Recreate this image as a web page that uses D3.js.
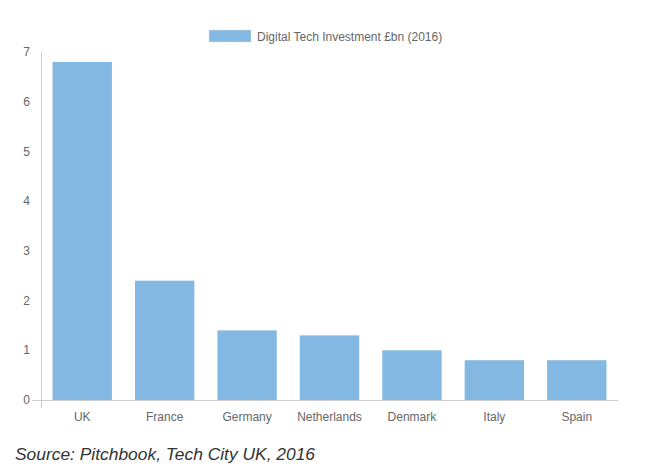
<!DOCTYPE html>
<html><head><meta charset="utf-8">
<script src="https://cdn.jsdelivr.net/npm/d3@7"></script>
<style>body{margin:0;background:#fff;}svg{display:block;}</style>
</head><body>
<svg id="c" width="659" height="473"></svg>
<script>
const categories = ["UK","France","Germany","Netherlands","Denmark","Italy","Spain"];
const values = [6.8, 2.4, 1.4, 1.3, 1.0, 0.8, 0.8];
const yTicks = [0,1,2,3,4,5,6,7];
const seriesName = "Digital Tech Investment £bn (2016)";
const sourceText = "Source: Pitchbook, Tech City UK, 2016";

const svg = d3.select("#c");
const font = "'Liberation Sans', Arial, sans-serif";
const x = d3.scaleBand().domain(categories).range([41, 618]).paddingInner(0.28).paddingOuter(0.14);
const y = d3.scaleLinear().domain([0, 7]).range([400, 52]);
const color = "#82b8e1";

// axes lines
svg.append("line").attr("x1", 41.5).attr("x2", 41.5).attr("y1", y(7)).attr("y2", 408).attr("stroke", "#ccc");
svg.append("line").attr("x1", 32).attr("x2", 618).attr("y1", 400.5).attr("y2", 400.5).attr("stroke", "#ccc");

// y tick labels
svg.append("g").selectAll("text").data(yTicks).join("text")
  .attr("x", 30).attr("y", d => y(d)).attr("dy", "0.35em")
  .attr("text-anchor", "end").attr("font-family", font).attr("font-size", 12).attr("fill", "#666")
  .text(d => d);

// bars
svg.append("g").selectAll("rect").data(values).join("rect")
  .attr("x", (d, i) => x(categories[i])).attr("width", x.bandwidth())
  .attr("y", d => y(d)).attr("height", d => y(0) - y(d))
  .attr("fill", color);

// x labels
svg.append("g").selectAll("text").data(categories).join("text")
  .attr("x", d => x(d) + x.bandwidth() / 2).attr("y", 421)
  .attr("text-anchor", "middle").attr("font-family", font).attr("font-size", 12).attr("fill", "#666")
  .text(d => d);

// legend
svg.append("rect").attr("x", 209).attr("y", 30).attr("width", 42).attr("height", 12).attr("fill", color).attr("stroke", "#ddd").attr("stroke-width", 0.5);
svg.append("text").attr("x", 257).attr("y", 40.5).attr("font-family", font).attr("font-size", 12).attr("fill", "#666").text(seriesName);

// source
svg.append("text").attr("x", 15).attr("y", 460).attr("font-family", font).attr("font-style", "italic")
  .attr("font-size", 17.4).attr("fill", "#333").text(sourceText);
</script>
</body></html>
